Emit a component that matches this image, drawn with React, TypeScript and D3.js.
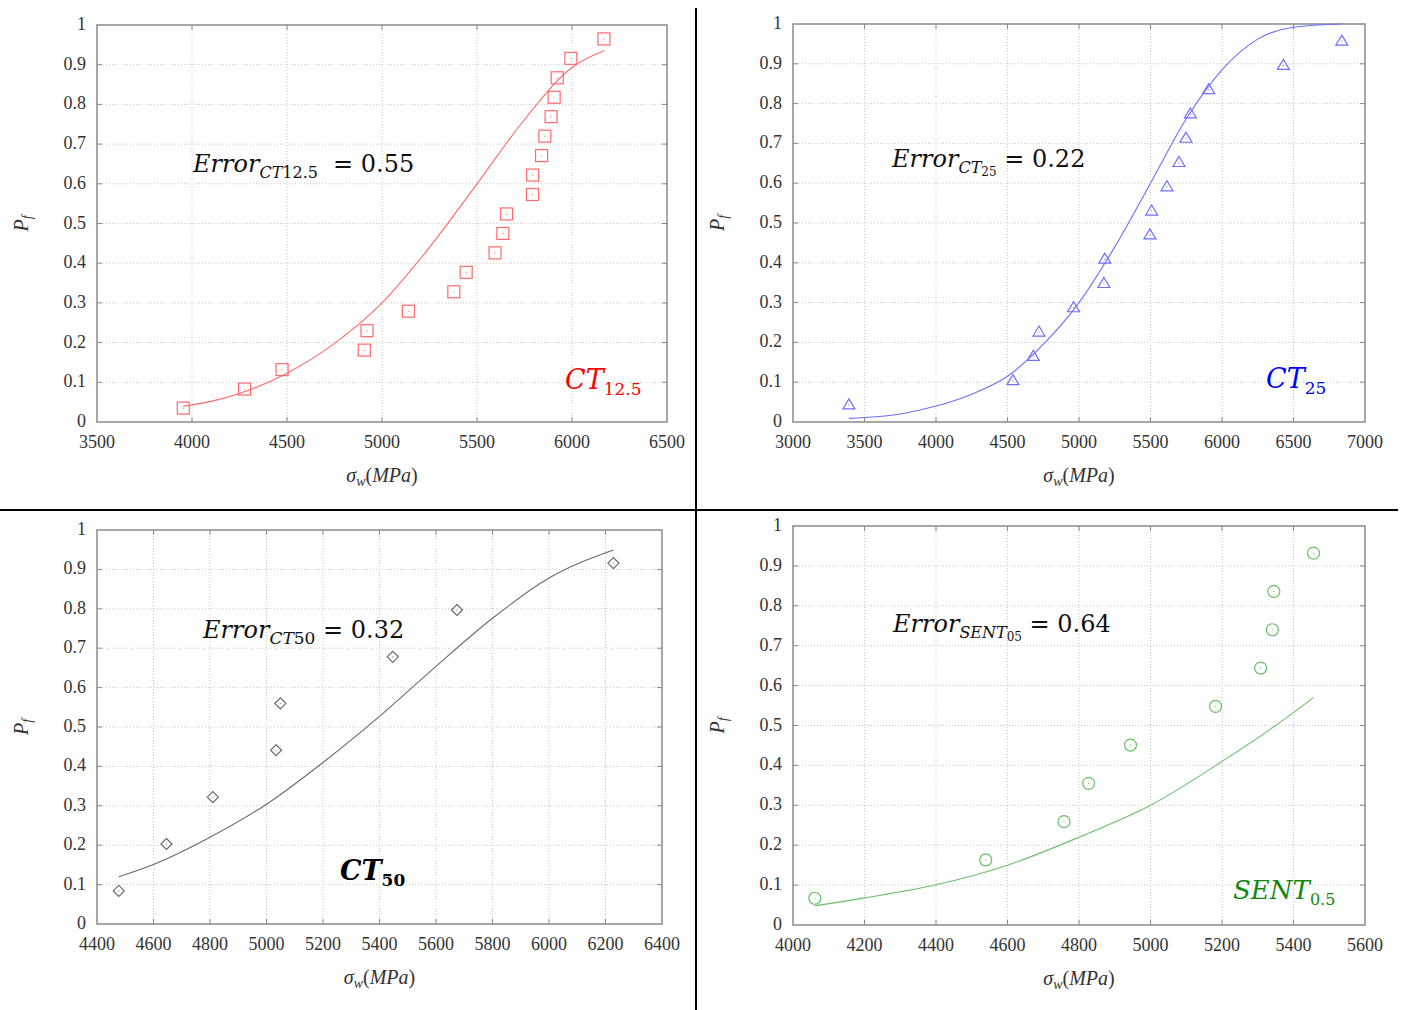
import React from 'react';
import * as d3 from 'd3';

// ---------- data ----------
const yTickValues = [0, 0.1, 0.2, 0.3, 0.4, 0.5, 0.6, 0.7, 0.8, 0.9, 1];

// CT12.5
const ct125Ticks = [3500, 4000, 4500, 5000, 5500, 6000, 6500];
const ct125Stress = [3954, 4277, 4474, 4907, 4921, 5139, 5378, 5443, 5595, 5636, 5656, 5792, 5793, 5840, 5857, 5890, 5906, 5922, 5994, 6168];
const ct125Pf = [0.035, 0.083, 0.132, 0.181, 0.230, 0.279, 0.328, 0.377, 0.426, 0.475, 0.524, 0.573, 0.622, 0.671, 0.720, 0.769, 0.818, 0.867, 0.916, 0.965];
const ct125FitStress = [3954, 4100, 4250, 4500, 4750, 5000, 5250, 5500, 5750, 6000, 6168];
const ct125FitPf = [0.040, 0.052, 0.072, 0.123, 0.198, 0.300, 0.440, 0.600, 0.762, 0.893, 0.935];

// CT25
const ct25Ticks = [3000, 3500, 4000, 4500, 5000, 5500, 6000, 6500, 7000];
const ct25Stress = [3391, 4538, 4680, 4720, 4962, 5174, 5180, 5496, 5508, 5615, 5699, 5748, 5779, 5907, 6429, 6838];
const ct25Pf = [0.043, 0.104, 0.165, 0.226, 0.287, 0.348, 0.409, 0.470, 0.530, 0.591, 0.652, 0.713, 0.774, 0.835, 0.896, 0.957];
const ct25FitStress = [3391, 3750, 4000, 4250, 4500, 4750, 5000, 5250, 5500, 5750, 6000, 6250, 6500, 6838];
const ct25FitPf = [0.009, 0.020, 0.040, 0.070, 0.115, 0.195, 0.300, 0.440, 0.600, 0.762, 0.885, 0.962, 0.992, 1.0];

// CT50
const ct50Ticks = [4400, 4600, 4800, 5000, 5200, 5400, 5600, 5800, 6000, 6200, 6400];
const ct50Stress = [4477, 4646, 4810, 5034, 5049, 5447, 5674, 6228];
const ct50Pf = [0.084, 0.203, 0.322, 0.441, 0.560, 0.678, 0.797, 0.916];
const ct50FitStress = [4477, 4600, 4800, 5000, 5200, 5400, 5600, 5800, 6000, 6228];
const ct50FitPf = [0.120, 0.151, 0.220, 0.304, 0.410, 0.527, 0.654, 0.776, 0.878, 0.949];

// SENT0.5
const sentTicks = [4000, 4200, 4400, 4600, 4800, 5000, 5200, 5400, 5600];
const sentStress = [4061, 4539, 4758, 4827, 4944, 5182, 5308, 5341, 5345, 5456];
const sentPf = [0.067, 0.163, 0.259, 0.355, 0.451, 0.548, 0.644, 0.740, 0.836, 0.932];
const sentFitStress = [4061, 4200, 4400, 4600, 4800, 5000, 5200, 5350, 5456];
const sentFitPf = [0.048, 0.068, 0.101, 0.150, 0.220, 0.300, 0.410, 0.500, 0.570];

// ---------- layout / styles ----------
type Panel = {
  key: string;
  box: { l: number; t: number; r: number; b: number };
  ticks: number[];
  xs: number[];
  ys: number[];
  fx: number[];
  fy: number[];
  marker: 'square' | 'triangle' | 'diamond' | 'circle';
  color: string;
  yTitleX: number;
};

const panels: Panel[] = [
  { key: 'ct125', box: { l: 97, t: 25, r: 667, b: 422 }, ticks: ct125Ticks, xs: ct125Stress, ys: ct125Pf, fx: ct125FitStress, fy: ct125FitPf, marker: 'square', color: '#ff6a6a', yTitleX: 22 },
  { key: 'ct25', box: { l: 793, t: 24, r: 1365, b: 422 }, ticks: ct25Ticks, xs: ct25Stress, ys: ct25Pf, fx: ct25FitStress, fy: ct25FitPf, marker: 'triangle', color: '#6e6eff', yTitleX: 718 },
  { key: 'ct50', box: { l: 97, t: 530, r: 662, b: 924 }, ticks: ct50Ticks, xs: ct50Stress, ys: ct50Pf, fx: ct50FitStress, fy: ct50FitPf, marker: 'diamond', color: '#6a6a6a', yTitleX: 22 },
  { key: 'sent', box: { l: 793, t: 526, r: 1365, b: 925 }, ticks: sentTicks, xs: sentStress, ys: sentPf, fx: sentFitStress, fy: sentFitPf, marker: 'circle', color: '#6cbf6c', yTitleX: 718 },
];

const tickFont = '"Liberation Serif", "Times New Roman", serif';
const mathFont = '"DejaVu Serif", serif';

function Marker({ type, x, y, color }: { type: string; x: number; y: number; color: string }) {
  const common = { fill: 'none', stroke: color, strokeWidth: 1.2 } as any;
  let shape: any = null;
  if (type === 'square') shape = <rect x={x - 6} y={y - 6} width={12} height={12} {...common} />;
  else if (type === 'triangle') shape = <path d={`M${x},${y - 6} L${x + 6},${y + 4} L${x - 6},${y + 4} Z`} {...common} />;
  else if (type === 'diamond') shape = <path d={`M${x},${y - 5.5} L${x + 5.5},${y} L${x},${y + 5.5} L${x - 5.5},${y} Z`} {...common} />;
  else shape = <circle cx={x} cy={y} r={6} {...common} />;
  return (
    <g>
      {shape}
      <circle cx={x} cy={y} r={0.6} fill={color} />
    </g>
  );
}

function PanelView({ p }: { p: Panel }) {
  const { l, t, r, b } = p.box;
  const x = d3.scaleLinear().domain([p.ticks[0], p.ticks[p.ticks.length - 1]]).range([l, r]);
  const y = d3.scaleLinear().domain([0, 1]).range([b, t]);
  const fit = p.fx.map((v, i) => [v, p.fy[i]] as [number, number]);
  const line = d3.line<[number, number]>().x(d => x(d[0])).y(d => y(d[1])).curve(d3.curveMonotoneX);
  const cx = (l + r) / 2;
  const cy = (t + b) / 2;
  return (
    <g>
      {p.ticks.slice(1, -1).map(v => (
        <line key={'gx' + v} x1={x(v)} x2={x(v)} y1={t} y2={b} stroke="#c8c8c8" strokeWidth={1} strokeDasharray="1,2" />
      ))}
      {yTickValues.slice(1, -1).map(v => (
        <line key={'gy' + v} x1={l} x2={r} y1={y(v)} y2={y(v)} stroke="#c8c8c8" strokeWidth={1} strokeDasharray="1,2" />
      ))}
      {p.ticks.slice(1, -1).map(v => (
        <g key={'tx' + v}>
          <line x1={x(v)} x2={x(v)} y1={b} y2={b - 5} stroke="#888" strokeWidth={1} />
          <line x1={x(v)} x2={x(v)} y1={t} y2={t + 5} stroke="#888" strokeWidth={1} />
        </g>
      ))}
      {yTickValues.slice(1, -1).map(v => (
        <g key={'ty' + v}>
          <line x1={l} x2={l + 5} y1={y(v)} y2={y(v)} stroke="#888" strokeWidth={1} />
          <line x1={r} x2={r - 5} y1={y(v)} y2={y(v)} stroke="#888" strokeWidth={1} />
        </g>
      ))}
      <rect x={l} y={t} width={r - l} height={b - t} fill="none" stroke="#8a8a8a" strokeWidth={1.5} />
      {p.ticks.map(v => (
        <text key={'lx' + v} x={x(v)} y={b + 26} textAnchor="middle" style={{ fontFamily: tickFont }} fontSize={18} fill="#333">{v}</text>
      ))}
      {yTickValues.map(v => (
        <text key={'ly' + v} x={l - 11} y={y(v) + 5} textAnchor="end" style={{ fontFamily: tickFont }} fontSize={18} fill="#333">{d3.format('~g')(v)}</text>
      ))}
      <text x={cx} y={b + 60} textAnchor="middle" style={{ fontFamily: tickFont }} fontSize={20} fill="#333">
        <tspan fontStyle="italic">σ</tspan>
        <tspan fontStyle="italic" fontSize={14} dy={4}>w</tspan>
        <tspan dy={-4}>(</tspan>
        <tspan fontStyle="italic">MPa</tspan>
        <tspan>)</tspan>
      </text>
      <text transform={`translate(${p.yTitleX + 6},${cy}) rotate(-90)`} textAnchor="middle" style={{ fontFamily: tickFont }} fontSize={20} fill="#333">
        <tspan fontStyle="italic">P</tspan>
        <tspan fontStyle="italic" fontSize={14} dy={4}>f</tspan>
      </text>
      <path d={line(fit) || ''} fill="none" stroke={p.color} strokeWidth={1.1} />
      {p.xs.map((v, i) => (
        <Marker key={'m' + i} type={p.marker} x={x(v)} y={y(p.ys[i])} color={p.color} />
      ))}
    </g>
  );
}

export default function App() {
  return (
    <svg width={1402} height={1010} style={{ position: 'absolute', left: 0, top: 0, background: '#fff' }}>
      <rect x={0} y={0} width={1402} height={1010} fill="#fff" />
      {panels.map(p => <PanelView key={p.key} p={p} />)}

      <text x={193} y={172} style={{ fontFamily: mathFont }} fontSize={24} fill="#111">
        <tspan fontStyle="italic">Error</tspan>
        <tspan fontSize={16} dy={6} fontStyle="italic">CT</tspan>
        <tspan fontSize={16}>12.5</tspan>
        <tspan x={333} dy={-6}>= 0.55</tspan>
      </text>
      <text x={892} y={167} style={{ fontFamily: mathFont }} fontSize={24} fill="#111">
        <tspan fontStyle="italic">Error</tspan>
        <tspan fontSize={16} dy={6} fontStyle="italic">CT</tspan>
        <tspan fontSize={12} dy={3}>25</tspan>
        <tspan dy={-9}> = 0.22</tspan>
      </text>
      <text x={203} y={638} style={{ fontFamily: mathFont }} fontSize={24} fill="#111">
        <tspan fontStyle="italic">Error</tspan>
        <tspan fontSize={17} dy={6} fontStyle="italic">CT</tspan>
        <tspan fontSize={17}>50</tspan>
        <tspan dy={-6}> = 0.32</tspan>
      </text>
      <text x={893} y={632} style={{ fontFamily: mathFont }} fontSize={24} fill="#111">
        <tspan fontStyle="italic">Error</tspan>
        <tspan fontSize={16} dy={6} fontStyle="italic">SENT</tspan>
        <tspan fontSize={12} dy={3}>05</tspan>
        <tspan dy={-9}> = 0.64</tspan>
      </text>

      <text x={565} y={389} style={{ fontFamily: mathFont }} fontSize={27} fill="#ff0000">
        <tspan fontStyle="italic">CT</tspan>
        <tspan fontSize={17} dy={6}>12.5</tspan>
      </text>
      <text x={1266} y={388} style={{ fontFamily: mathFont }} fontSize={27} fill="#0000ff">
        <tspan fontStyle="italic">CT</tspan>
        <tspan fontSize={17} dy={6}>25</tspan>
      </text>
      <text x={340} y={880} style={{ fontFamily: mathFont }} fontSize={27} fontWeight="bold" fill="#000">
        <tspan fontStyle="italic">CT</tspan>
        <tspan fontSize={17} dy={6}>50</tspan>
      </text>
      <text x={1233} y={899} style={{ fontFamily: mathFont }} fontSize={26} fill="#118811">
        <tspan fontStyle="italic">SENT</tspan>
        <tspan fontSize={16} dy={6}>0.5</tspan>
      </text>

      <line x1={696} y1={8} x2={696} y2={1010} stroke="#000" strokeWidth={2} />
      <line x1={0} y1={510} x2={1398} y2={510} stroke="#000" strokeWidth={2} />
    </svg>
  );
}
